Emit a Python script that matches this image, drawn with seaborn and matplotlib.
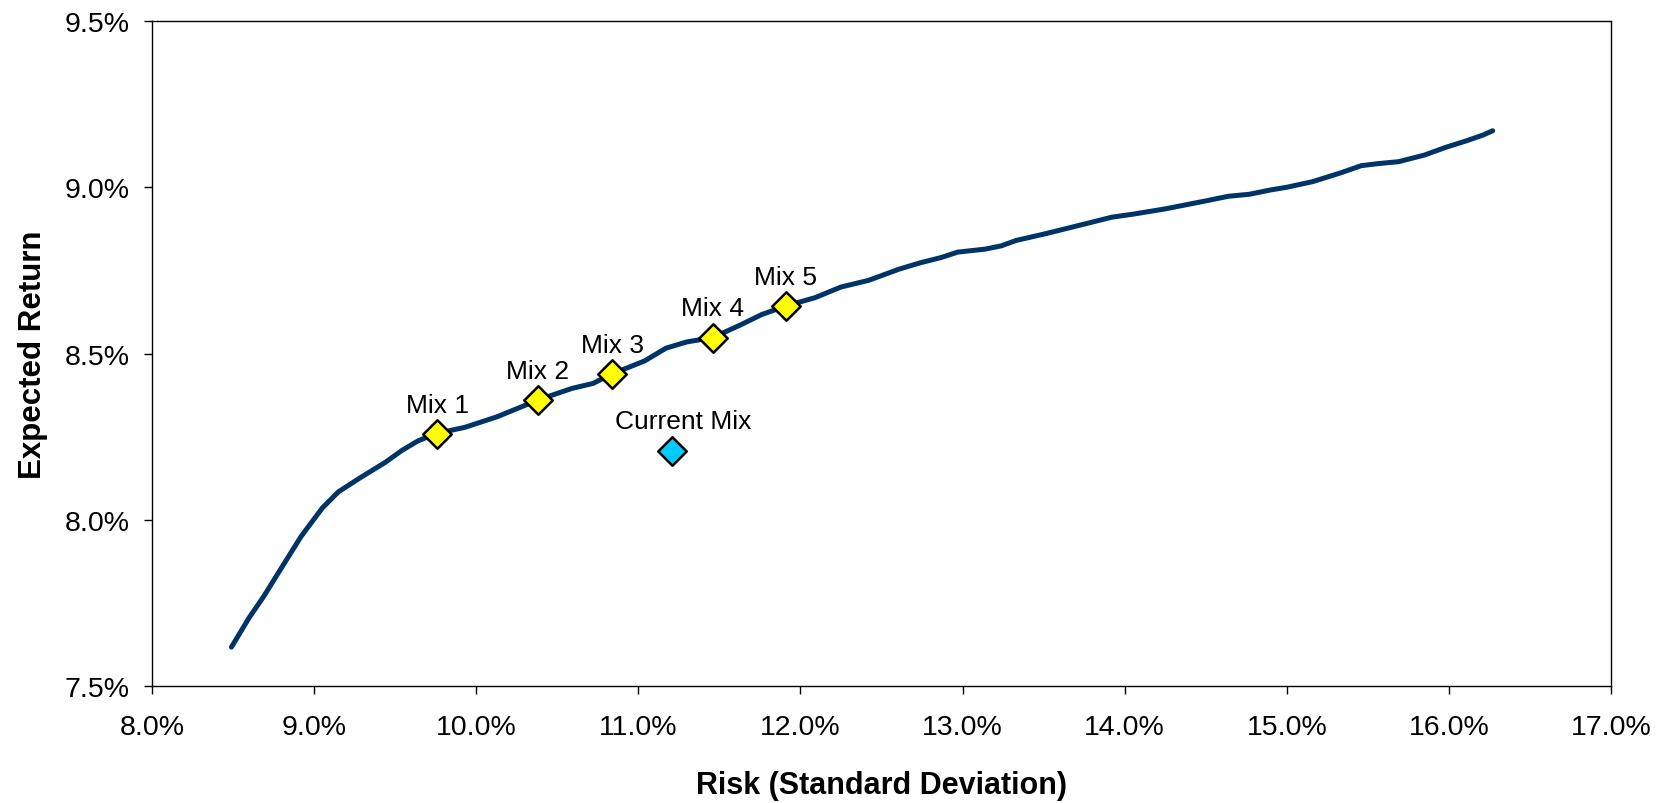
import matplotlib
matplotlib.use("Agg")
import matplotlib.pyplot as plt
import seaborn as sb
import pandas as pd
from matplotlib.ticker import FuncFormatter

# efficient frontier, risk / return in percent
frontier_risk = [8.49, 8.60, 8.69, 8.77, 8.92, 9.05, 9.15, 9.28, 9.44, 9.54, 9.64,
                 9.75, 9.93, 10.13, 10.38, 10.59, 10.72, 10.83, 11.04, 11.17, 11.30,
                 11.46, 11.63, 11.76, 11.91, 12.09, 12.25, 12.42, 12.61, 12.74, 12.87,
                 12.97, 13.14, 13.24, 13.33, 13.50, 13.60, 13.79, 13.92, 14.05, 14.25,
                 14.51, 14.64, 14.77, 14.90, 15.00, 15.16, 15.33, 15.46, 15.56, 15.69,
                 15.85, 15.98, 16.11, 16.21, 16.27]
frontier_return = [7.617, 7.706, 7.77, 7.833, 7.95, 8.035, 8.084, 8.125, 8.173, 8.208, 8.237,
                   8.259, 8.278, 8.31, 8.36, 8.395, 8.41, 8.437, 8.478, 8.516, 8.535,
                   8.548, 8.586, 8.617, 8.643, 8.668, 8.70, 8.72, 8.754, 8.773, 8.789,
                   8.805, 8.814, 8.824, 8.84, 8.859, 8.871, 8.894, 8.91, 8.919, 8.935,
                   8.96, 8.973, 8.979, 8.992, 9.0, 9.017, 9.043, 9.065, 9.071, 9.077,
                   9.097, 9.12, 9.14, 9.157, 9.17]

mix_names = ["Mix 1", "Mix 2", "Mix 3", "Mix 4", "Mix 5"]
mix_risk = [9.76, 10.38, 10.84, 11.46, 11.91]
mix_return = [8.257, 8.36, 8.437, 8.548, 8.643]

current_name = "Current Mix"
current_risk = [11.21]
current_return = [8.208]

x_ticks = [8, 9, 10, 11, 12, 13, 14, 15, 16, 17]
y_ticks = [7.5, 8.0, 8.5, 9.0, 9.5]

sb.set_style("white")
plt.rcParams["font.family"] = ["Liberation Sans", "DejaVu Sans"]
plt.rcParams["text.color"] = "black"
plt.rcParams["axes.labelcolor"] = "black"

fig = plt.figure(figsize=(16.61, 8.04), dpi=100)
ax = fig.add_axes([0.0915, 0.1455, 0.8784, 0.8271])

curve = pd.DataFrame({"risk": frontier_risk, "ret": frontier_return})
sb.lineplot(data=curve, x="risk", y="ret", sort=False, color="#003366", linewidth=3.6, ax=ax)

mixes = pd.DataFrame({"risk": mix_risk, "ret": mix_return})
sb.scatterplot(data=mixes, x="risk", y="ret", marker="D", s=210, color="#FFFF00",
               edgecolor="black", linewidth=1.8, zorder=5, ax=ax)
sb.scatterplot(x=current_risk, y=current_return, marker="D", s=210, color="#00CCFF",
               edgecolor="black", linewidth=1.8, zorder=5, ax=ax)

for name, xv, yv in zip(mix_names, mix_risk, mix_return):
    ax.annotate(name, (xv, yv), xytext=(0, 21), textcoords="offset points",
                ha="center", va="center", fontsize=19)
ax.annotate(current_name, (current_risk[0], current_return[0]), xytext=(8, 21),
            textcoords="offset points", ha="center", va="center", fontsize=19)

ax.set_xlim(8, 17)
ax.set_ylim(7.5, 9.5)
ax.set_xticks(x_ticks)
ax.set_yticks(y_ticks)
ax.xaxis.set_major_formatter(FuncFormatter(lambda v, p: f"{v:.1f}%"))
ax.yaxis.set_major_formatter(FuncFormatter(lambda v, p: f"{v:.1f}%"))
ax.tick_params(axis="both", direction="out", length=6, width=1, labelsize=20.5,
               colors="black", pad=10)
ax.tick_params(axis="x", pad=14)
ax.tick_params(left=True, bottom=True)

for side in ["top", "right", "left", "bottom"]:
    ax.spines[side].set_visible(True)
    ax.spines[side].set_color("black")
    ax.spines[side].set_linewidth(1.0)

ax.set_xlabel("Risk (Standard Deviation)", fontsize=22, fontweight="bold", labelpad=22)
ax.set_ylabel("Expected Return", fontsize=22.5, fontweight="bold", labelpad=12)
ax.grid(False)

fig.savefig("out.png", dpi=100)
